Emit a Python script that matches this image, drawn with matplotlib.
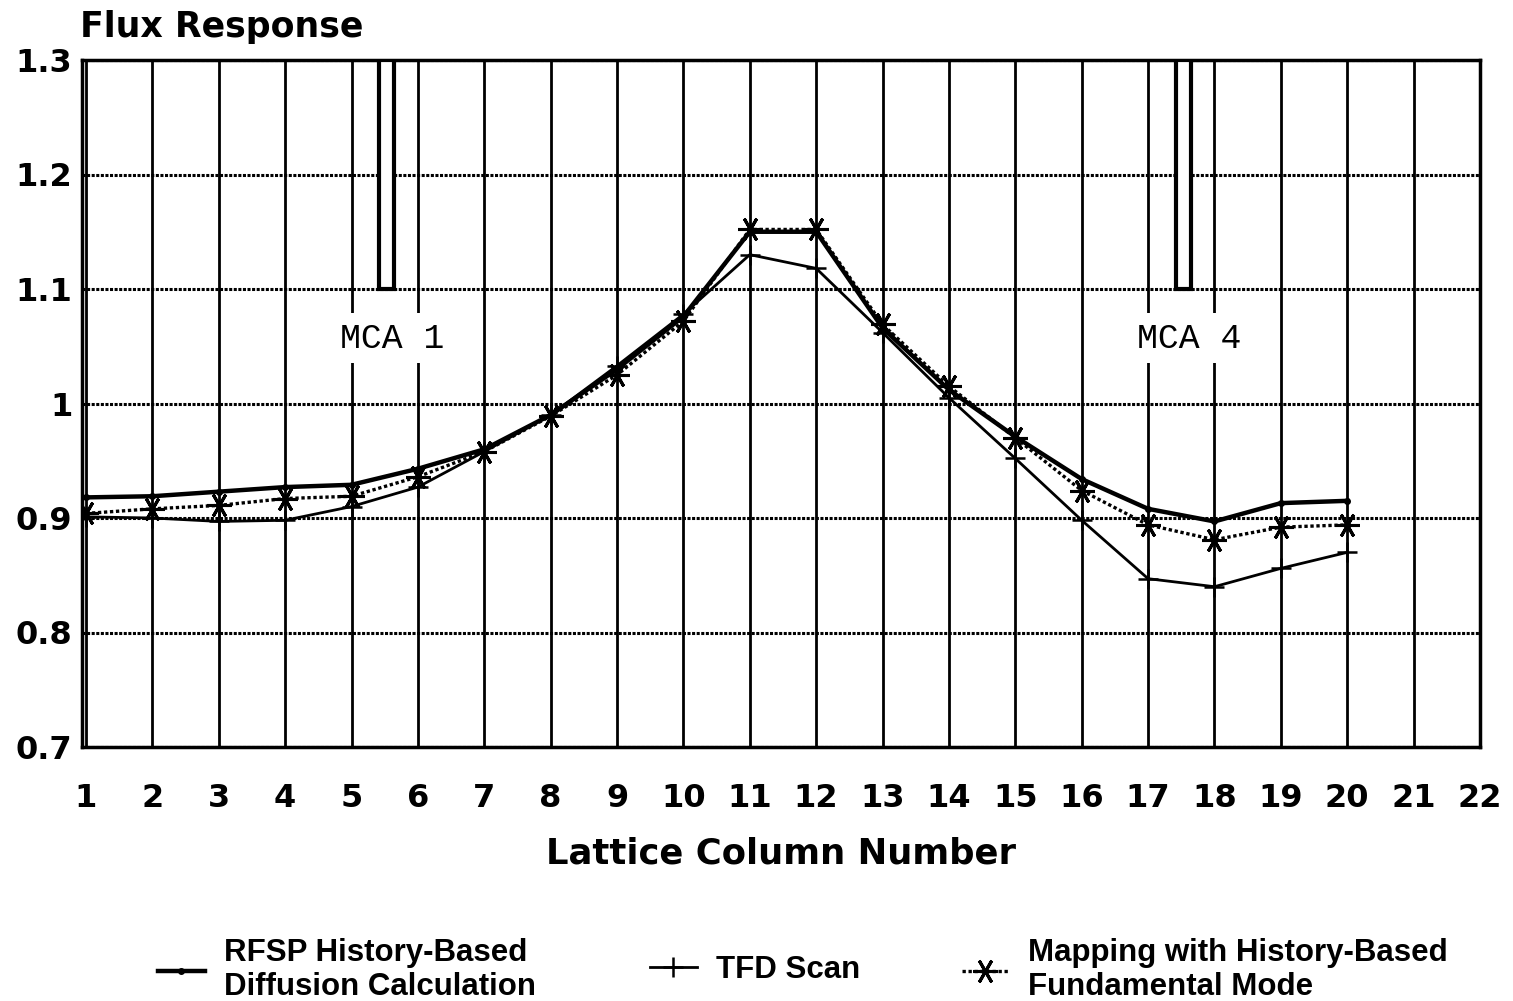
import matplotlib
matplotlib.use("Agg")
import matplotlib.pyplot as plt
from matplotlib.patches import Rectangle

# ---- data ----
columns = list(range(1, 21))
rfsp = [0.918, 0.919, 0.923, 0.927, 0.929, 0.943, 0.960, 0.990, 1.030, 1.076,
        1.150, 1.150, 1.066, 1.012, 0.971, 0.934, 0.908, 0.897, 0.913, 0.915]
tfd = [0.901, 0.900, 0.897, 0.898, 0.910, 0.927, 0.958, 0.990, 1.033, 1.078,
       1.130, 1.118, 1.062, 1.005, 0.952, 0.898, 0.847, 0.840, 0.856, 0.870]
mapping = [0.904, 0.908, 0.911, 0.917, 0.919, 0.936, 0.958, 0.989, 1.025, 1.072,
           1.152, 1.152, 1.069, 1.015, 0.970, 0.924, 0.894, 0.881, 0.892, 0.894]
x_ticks = list(range(1, 23))
y_ticks = [0.7, 0.8, 0.9, 1.0, 1.1, 1.2, 1.3]
y_tick_labels = ["0.7", "0.8", "0.9", "1", "1.1", "1.2", "1.3"]
mca_labels = ["MCA 1", "MCA 4"]
mca_x = [(5.42, 5.64), (17.42, 17.65)]
mca_bottom = 1.1
mca_text_x = [5.62, 17.62]
mca_text_y = 1.057

label_rfsp = "RFSP History-Based\nDiffusion Calculation"
label_tfd = "TFD Scan"
label_map = "Mapping with History-Based\nFundamental Mode"

W, H = 1513, 1001
fig = plt.figure(figsize=(W / 100, H / 100), dpi=100)
fig.patch.set_facecolor("white")
ax = fig.add_axes([82 / W, 1 - 747 / H, (1480 - 82) / W, (747 - 60) / H])

ax.set_xlim(0.94, 22.0)
ax.set_ylim(0.7, 1.3)

# grid
for xv in x_ticks:
    ax.axvline(xv, color="black", lw=2.0, zorder=1)
for yv in y_ticks:
    ax.axhline(yv, color="black", lw=2.2, ls=(0, (1, 0.5)), zorder=1)

# MCA rectangles
for (x0, x1) in mca_x:
    ax.add_patch(Rectangle((x0, mca_bottom), x1 - x0, 1.3 - mca_bottom,
                           facecolor="white", edgecolor="black", lw=3, zorder=3))
for lab, tx in zip(mca_labels, mca_text_x):
    ax.text(tx, mca_text_y, lab, family="Liberation Mono", fontsize=25,
            ha="center", va="center", zorder=4,
            bbox=dict(facecolor="white", edgecolor="none", pad=6))

l1, = ax.plot(columns, rfsp, color="black", lw=3.2, marker="o", ms=4,
              label=label_rfsp, zorder=5)
l2, = ax.plot(columns, tfd, color="black", lw=2.0, marker="+", ms=14, mew=1.8,
              label=label_tfd, zorder=5)
l3, = ax.plot(columns, mapping, color="black", lw=2.4, ls=(0, (1, 0.8)),
              marker=(6, 2, 90), ms=18, mew=2.2, label=label_map, zorder=6)

for s in ax.spines.values():
    s.set_linewidth(2.5)

tick_font = "DejaVu Sans"
ax.set_xticks(x_ticks)
ax.set_xticklabels([str(v) for v in x_ticks])
ax.set_yticks(y_ticks)
ax.set_yticklabels(y_tick_labels)
ax.tick_params(length=0, labelsize=23)
ax.tick_params(axis="x", pad=26)
ax.tick_params(axis="y", pad=7)
for t in ax.get_xticklabels() + ax.get_yticklabels():
    t.set_family(tick_font)
    t.set_fontweight("bold")

ax.set_xlabel("Lattice Column Number", fontsize=25.5, fontweight="bold",
              family=tick_font, labelpad=16)
fig.text(80 / W, 1 - 27 / H, "Flux Response", fontsize=25, fontweight="bold",
         family=tick_font, ha="left", va="center")

leg_font = {"family": "Liberation Sans", "weight": "bold", "size": 22.5}
for h, xpos in [(l1, 158), (l2, 650), (l3, 962)]:
    fig.legend(handles=[h], loc="center left",
               bbox_to_anchor=(xpos / W, 1 - 970 / H), frameon=False,
               prop=leg_font, handlelength=1.5, handletextpad=0.6,
               borderpad=0, borderaxespad=0)

fig.savefig("out.png", dpi=100, facecolor="white")
